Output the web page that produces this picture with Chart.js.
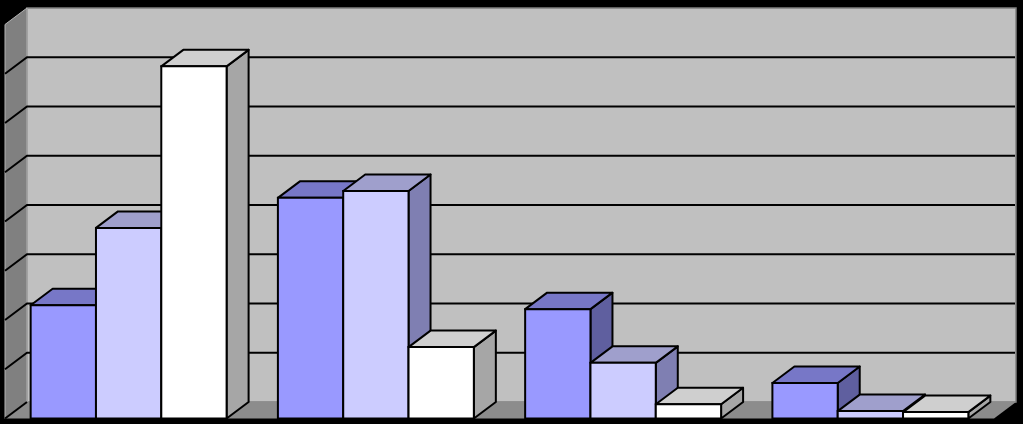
<!DOCTYPE html>
<html>
<head>
<meta charset="utf-8">
<style>
  html, body { margin: 0; padding: 0; background: #000; overflow: hidden; }
  canvas { display: block; }
</style>
<script src="https://cdn.jsdelivr.net/npm/chart.js@4/dist/chart.umd.min.js"></script>
</head>
<body>
<canvas id="chart" width="1023" height="424"></canvas>
<script>
const categories = ['A', 'B', 'C', 'D']
const series1 = [23, 44.8, 22.2, 7.2]
const series2 = [38.7, 46.2, 11.3, 1.5]
const series3 = [71.5, 14.5, 2.9, 1.3]
const yTicks = [0, 10, 20, 30, 40, 50, 60, 70, 80]

// oblique offset of the back plane
const DX = 22
const DY = -16.5

const faces = [
  { front: '#9999ff', top: '#7777c7', side: '#5f5f9f' },
  { front: '#ccccff', top: '#9f9fcc', side: '#7f7fb2' },
  { front: '#ffffff', top: '#cfcfcf', side: '#a6a6a6' }
]

function poly(ctx, pts, fill, stroke, lw) {
  ctx.beginPath()
  pts.forEach((p, i) => i ? ctx.lineTo(p[0], p[1]) : ctx.moveTo(p[0], p[1]))
  ctx.closePath()
  if (fill) { ctx.fillStyle = fill; ctx.fill() }
  if (stroke) { ctx.strokeStyle = stroke; ctx.lineWidth = lw; ctx.stroke() }
}

const box3d = {
  id: 'box3d',
  // walls, floor and grid
  beforeDatasetsDraw(chart) {
    const ctx = chart.ctx
    const { left, right } = chart.chartArea
    const y = chart.scales.y
    const top = y.getPixelForValue(80), bottom = y.getPixelForValue(0)
    ctx.save()
    poly(ctx, [[left + DX, top + DY], [right + DX, top + DY], [right + DX, bottom + DY], [left + DX, bottom + DY]], '#c0c0c0', '#808080', 1.5)
    poly(ctx, [[left, top], [left + DX, top + DY], [left + DX, bottom + DY], [left, bottom]], '#808080', '#b4b4b4', 1)
    poly(ctx, [[left, bottom], [left + DX, bottom + DY], [right + DX, bottom + DY], [right, bottom]], '#8c8c8c')
    ctx.strokeStyle = '#000'
    ctx.lineWidth = 2
    yTicks.forEach(t => {
      if (t === 80) return
      const py = y.getPixelForValue(t)
      ctx.beginPath()
      ctx.moveTo(left, py)
      ctx.lineTo(left + DX, py + DY)
      if (t > 0) ctx.lineTo(right + DX - 1, py + DY)
      ctx.stroke()
    })
    ctx.restore()
  },
  // the library paints the last dataset first, the boxes need it the other way round
  beforeDatasetDraw() {
    return false
  },
  afterDatasetsDraw(chart) {
    const ctx = chart.ctx
    chart.data.datasets.forEach((ds, i) => {
      const c = faces[i]
      chart.getDatasetMeta(i).data.forEach(bar => {
        const l = bar.x - bar.width / 2, r = bar.x + bar.width / 2
        ctx.save()
        ctx.lineJoin = 'round'
        poly(ctx, [[r, bar.base], [r + DX, bar.base + DY], [r + DX, bar.y + DY], [r, bar.y]], c.side, '#000', 2)
        poly(ctx, [[l, bar.y], [l + DX, bar.y + DY], [r + DX, bar.y + DY], [r, bar.y]], c.top, '#000', 2)
        ctx.restore()
        bar.draw(ctx)
        // outline centred on the bar edge so neighbours share one line
        ctx.save()
        poly(ctx, [[l, bar.y], [r, bar.y], [r, bar.base], [l, bar.base]], null, '#000', 2)
        ctx.restore()
      })
    })
  }
}

function barSet(values, i) {
  return {
    data: values,
    backgroundColor: faces[i].front,
    borderWidth: 0,
    categoryPercentage: 0.7925,
    barPercentage: 1
  }
}

new Chart(document.getElementById('chart'), {
  type: 'bar',
  data: {
    labels: categories,
    datasets: [barSet(series1, 0), barSet(series2, 1), barSet(series3, 2)]
  },
  options: {
    responsive: false,
    animation: false,
    layout: { padding: { left: 5, right: 29, top: 24.5, bottom: 5.5 } },
    plugins: { legend: { display: false }, tooltip: { enabled: false } },
    scales: {
      x: { display: false },
      y: { display: false, min: 0, max: 80 }
    }
  },
  plugins: [box3d]
})
</script>
</body>
</html>
